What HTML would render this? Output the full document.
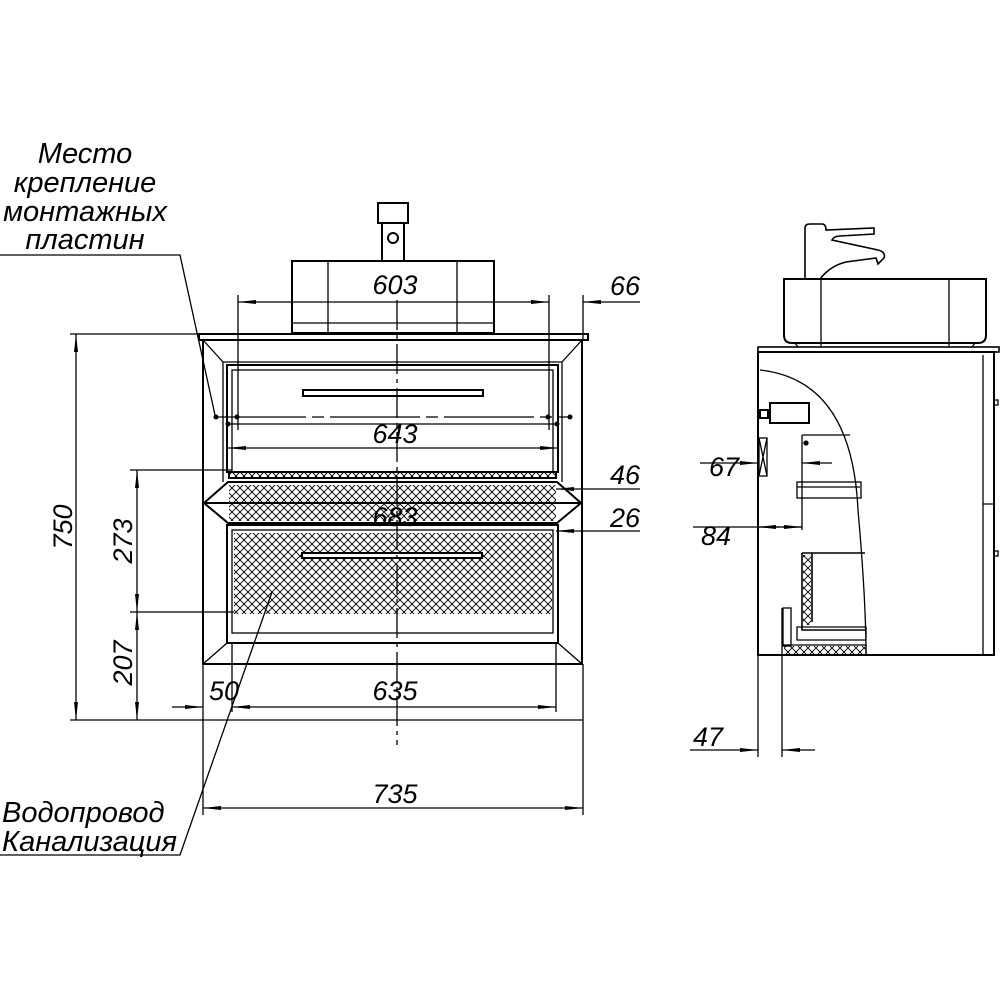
<!DOCTYPE html>
<html><head><meta charset="utf-8"><style>html,body{margin:0;padding:0;background:#fff}svg{display:block}</style></head><body>
<svg width="1000" height="1000" viewBox="0 0 1000 1000" xmlns="http://www.w3.org/2000/svg">
<defs>
<pattern id="hx" width="8" height="8" patternUnits="userSpaceOnUse"><path d="M0 0L4 4L8 0M0 8L4 4L8 8" stroke="#000" stroke-width="0.9" fill="none"/></pattern>
<marker id="a" markerWidth="18" markerHeight="6" refX="18" refY="3" orient="auto" markerUnits="userSpaceOnUse"><path d="M0 1L18 3L0 5Z" fill="#000"/></marker>
<marker id="b" markerWidth="18" markerHeight="6" refX="0" refY="3" orient="auto" markerUnits="userSpaceOnUse"><path d="M18 1L0 3L18 5Z" fill="#000"/></marker>
</defs>
<g fill="none" stroke="#000" stroke-width="1.3">
<!-- front faucet -->
<rect x="378" y="203" width="30" height="20" stroke-width="2"/>
<path d="M382 223V261M404 223V261" stroke-width="2"/>
<circle cx="393" cy="238" r="5" stroke-width="2"/>
<!-- basin -->
<rect x="292" y="261" width="202" height="72" stroke-width="2"/>
<path d="M328 261V333M457 261V333M292 323H494"/>
<!-- countertop -->
<rect x="199" y="334" width="389" height="6" stroke-width="2"/>
<!-- cabinet -->
<rect x="203" y="340" width="379" height="324" stroke-width="2"/>
<path d="M203 340L223 362H562L582 340M223 362V482M562 362V482"/>
<rect x="227" y="365" width="331" height="107" stroke-width="2"/>
<rect x="232" y="370" width="321" height="102"/>
<rect x="303" y="390" width="180" height="6" stroke-width="2"/>
<rect x="229" y="472" width="327" height="6" fill="url(#hx)" stroke-width="2"/>
<path d="M228 482H557L581 503L557 523H228L204 503Z" stroke-width="2"/>
<rect x="229" y="485" width="327" height="36" fill="url(#hx)" stroke="none"/>
<path d="M204 503H581" stroke-width="2"/>
<path d="M203 664L227 643M582 664L558 643"/>
<rect x="227" y="525" width="331" height="118" stroke-width="2"/>
<rect x="232" y="530" width="321" height="103"/>
<rect x="234" y="533" width="318" height="81" fill="url(#hx)" stroke="none"/>
<rect x="302" y="553" width="180" height="5" fill="#fff" stroke-width="2"/>
<!-- mount lines -->
<path d="M216 417H570" stroke-dasharray="90 6 12 6"/>
<path d="M226 424H559"/>
<g fill="#000" stroke="none"><circle cx="216" cy="417" r="2.5"/><circle cx="237" cy="417" r="2.5"/><circle cx="548" cy="417" r="2.5"/><circle cx="570" cy="417" r="2.5"/><circle cx="228" cy="424" r="2.5"/><circle cx="557" cy="424" r="2.5"/></g>
<!-- center line -->
<path d="M397 300V745" stroke-dasharray="30 5 4 5"/>
<!-- dims front -->
<path d="M238 295V430M549 295V430M583 295V340"/>
<path d="M238 302H549" marker-start="url(#b)" marker-end="url(#a)"/>
<path d="M640 302H583" marker-end="url(#a)"/>
<path d="M228 448H558" marker-start="url(#b)" marker-end="url(#a)"/>
<path d="M640 489H556" marker-end="url(#a)"/>
<path d="M640 531H556" marker-end="url(#a)"/>
<path d="M70 334H200M70 720H583"/>
<path d="M76 334V720" marker-start="url(#b)" marker-end="url(#a)"/>
<path d="M130 470H232M130 612H234"/>
<path d="M137 470V612" marker-start="url(#b)" marker-end="url(#a)"/>
<path d="M137 612V720" marker-start="url(#b)" marker-end="url(#a)"/>
<path d="M203 664V815M583 664V815M232 643V712M556 643V712"/>
<path d="M172 707H203" marker-end="url(#a)"/>
<path d="M232 707H556" marker-start="url(#b)" marker-end="url(#a)"/>
<path d="M203 808H583" marker-start="url(#b)" marker-end="url(#a)"/>
<!-- leaders -->
<path d="M0 255H180L215 415"/>
<path d="M0 855H180L272 592"/>
<!-- side view -->
<path d="M805 279V228Q805 224 810 224H822Q826 224 826 230L874 228V234L840 236Q834 236 832 240L878 250Q886 252 884 258L878 264L876 258L846 262Q830 266 820 279" stroke-width="1.6"/>
<path d="M784 279H986V335Q986 343 978 343H792Q784 343 784 335Z" stroke-width="2"/>
<path d="M821 279V346M949 279V346M795 343L798 347M975 343L972 347"/>
<rect x="758" y="347" width="241" height="5" stroke-width="1.6"/>
<rect x="758" y="352" width="236" height="303" stroke-width="2"/>
<path d="M983 355V655M983 504H994"/>
<rect x="994" y="400" width="4" height="5"/><rect x="994" y="551" width="4" height="5"/>
<path d="M760 370Q852 380 858 510Q866 600 866 655"/>
<rect x="770" y="403" width="39" height="20" stroke-width="2"/>
<rect x="760" y="410" width="8" height="8" stroke-width="2"/>
<rect x="759" y="438" width="8" height="38"/>
<path d="M759 438L767 476M767 438L759 476"/>
<path d="M802 435H850M802 435V530"/>
<circle cx="806" cy="443" r="2" fill="#000"/>
<rect x="797" y="482" width="64" height="16"/>
<path d="M797 487H860"/>
<path d="M802 553H865M802 553V630H866M812 553V622" stroke-width="1.6"/>
<rect x="803" y="555" width="8" height="70" fill="url(#hx)" stroke="none"/>
<path d="M797 627H866V640H797Z"/>
<rect x="783" y="608" width="8" height="38"/>
<path d="M783 645H866V655H783"/>
<rect x="784" y="646" width="81" height="8" fill="url(#hx)" stroke="none"/>
<path d="M700 463H758" marker-end="url(#a)"/>
<path d="M832 463H802" marker-end="url(#a)"/>
<path d="M693 527H802" />
<path d="M780 527H758" marker-end="url(#a)"/>
<path d="M782 527H802" marker-end="url(#a)"/>
<path d="M758 655V757M782 608V757"/>
<path d="M690 750H758" marker-end="url(#a)"/>
<path d="M815 750H782" marker-end="url(#a)"/>
</g>
<g font-family="Liberation Sans, sans-serif" font-style="italic" font-size="29" fill="#000">
<text x="85" y="163" text-anchor="middle">Место</text>
<text x="85" y="192" text-anchor="middle">крепление</text>
<text x="85" y="221" text-anchor="middle">монтажных</text>
<text x="85" y="249" text-anchor="middle">пластин</text>
<text x="2" y="822">Водопровод</text>
<text x="2" y="851">Канализация</text>
</g>
<g font-family="Liberation Sans, sans-serif" font-style="italic" font-size="27" fill="#000">
<text x="395" y="294" text-anchor="middle">603</text>
<text x="625" y="295" text-anchor="middle">66</text>
<text x="395" y="443" text-anchor="middle">643</text>
<text x="625" y="484" text-anchor="middle">46</text>
<text x="395" y="526" text-anchor="middle">683</text>
<text x="625" y="527" text-anchor="middle">26</text>
<text x="224" y="700" text-anchor="middle">50</text>
<text x="395" y="700" text-anchor="middle">635</text>
<text x="395" y="803" text-anchor="middle">735</text>
<text transform="translate(72,527) rotate(-90)" text-anchor="middle">750</text>
<text transform="translate(132,541) rotate(-90)" text-anchor="middle">273</text>
<text transform="translate(132,663) rotate(-90)" text-anchor="middle">207</text>
<text x="724" y="476" text-anchor="middle">67</text>
<text x="716" y="545" text-anchor="middle">84</text>
<text x="708" y="746" text-anchor="middle">47</text>
</g>
</svg>
</body></html>
